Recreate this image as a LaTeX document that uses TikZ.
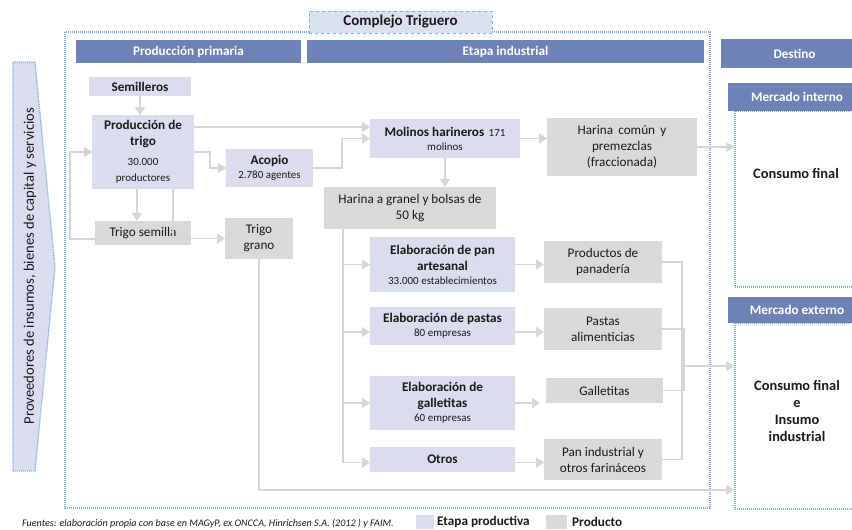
\documentclass[tikz,border=0pt]{standalone}
\usepackage{fontspec}
\setmainfont{Carlito}
\usetikzlibrary{arrows.meta}

\definecolor{hdrblue}{HTML}{6E82B5}
\definecolor{lav}{HTML}{D9DDEE}
\definecolor{gry}{HTML}{D9D9D9}
\definecolor{lngray}{HTML}{D6D6D6}
\definecolor{dotblue}{HTML}{7EB2E8}
\definecolor{titlefill}{HTML}{DCE1F0}
\definecolor{ink}{HTML}{1A1A1A}

\newcommand\fbig{\fontsize{13.2}{16}\selectfont}
\newcommand\fsmall{\fontsize{11}{14}\selectfont}
\newcommand\fdest{\fontsize{14.4}{17}\selectfont}

\tikzset{
  box/.style={rectangle, inner sep=0pt, outer sep=0pt, align=center, text=ink, font=\fbig},
  stage/.style={box, fill=lav},
  item/.style={box, fill=gry},
  hdr/.style={rectangle, inner sep=0pt, outer sep=0pt, fill=hdrblue, text=white, font=\fbig\bfseries},
  dotbox/.style={draw=dotblue, line width=1.3pt, dash pattern=on 1.1pt off 0.9pt},
  ln/.style={draw=lngray, line width=1.8pt},
  arr/.style={ln, -{Triangle[length=8pt,width=10pt,fill=lngray]}},
}

\begin{document}
\begin{tikzpicture}[x=1pt,y=-1pt]
\useasboundingbox (0,0) rectangle (852,530);

% frame of the wheat complex and its title
\draw[dotbox] (65,32) rectangle (710,508);
\node[rectangle, fill=titlefill, draw=dotblue, line width=1pt, dashed,
      minimum width=183pt, minimum height=22pt, inner sep=0pt,
      font=\fontsize{15}{18}\selectfont\bfseries, text=ink] (title) at (400.5,22) {Complejo Triguero};

% suppliers band on the left
\draw[dotbox, fill=lav] (13,62) -- (35,62) -- (55,267) -- (35,471) -- (13,471) -- cycle;
\node[rotate=90, font=\fontsize{14.6}{17}\selectfont, text=ink] (prov) at (30,266) {Proveedores de insumos, bienes de capital y servicios};

% column headers
\node[hdr, minimum width=225pt, minimum height=23pt] (h1) at (188.5,51.5) {Producción primaria};
\node[hdr, minimum width=397pt, minimum height=23pt] (h2) at (505.5,51.5) {Etapa industrial};
\node[hdr, minimum width=147pt, minimum height=29pt] (h3) at (794.5,53.5) {Destino};

% destination markets
\node[dotbox, rectangle, minimum width=131pt, minimum height=176pt, inner sep=0pt] (int) at (800.5,199) {};
\node[dotbox, rectangle, minimum width=131pt, minimum height=186pt, inner sep=0pt] (ext) at (800.5,416) {};
\node[hdr, minimum width=138pt, minimum height=28pt] (h4) at (797,97) {Mercado interno};
\node[hdr, minimum width=138pt, minimum height=26pt] (h5) at (797,310) {Mercado externo};
\node[box, font=\fdest\bfseries] (cfi) at (796,173) {Consumo final};
\node[box, font=\fdest\bfseries] (cfe) at (797,411) {Consumo final\\e\\Insumo\\industrial};

% primary production
\node[stage, minimum width=102pt, minimum height=19pt] (sem) at (140,86.5) {\bfseries Semilleros};
\node[stage, minimum width=102pt, minimum height=74pt] (prod) at (143,152)
  {\bfseries Producción de\\\bfseries trigo\\[4pt]\fsmall 30.000\\\fsmall productores};
\node[stage, minimum width=87pt, minimum height=38pt] (aco) at (269.5,168)
  {\bfseries Acopio\\[-2pt]\fsmall 2.780 agentes};
\node[item, minimum width=96pt, minimum height=24pt] (ts) at (143,233) {Trigo semilla};
\node[item, minimum width=68pt, minimum height=41pt] (tg) at (259,238.5) {Trigo\\grano};

% industrial stage
\node[stage, minimum width=150pt, minimum height=39pt] (mol) at (445,138.5)
  {{\bfseries Molinos harineros}\,\,{\fsmall 171}\\[-2pt]\fsmall molinos};
\node[item, minimum width=150pt, minimum height=58pt] (hc) at (622,147)
  {Harina\, común\, y\\premezclas\\(fraccionada)};
\node[item, minimum width=172pt, minimum height=42pt] (hg) at (410,208)
  {Harina a granel y bolsas de\\50 kg};
\node[stage, minimum width=145pt, minimum height=55pt] (pan) at (442.5,264.5)
  {\bfseries Elaboración de pan\\\bfseries artesanal\\[-2pt]\fsmall 33.000 establecimientos};
\node[stage, minimum width=145pt, minimum height=38pt] (pas) at (442.5,326)
  {\bfseries Elaboración de pastas\\[-2pt]\fsmall 80 empresas};
\node[stage, minimum width=145pt, minimum height=54pt] (gal) at (442.5,403)
  {\bfseries Elaboración de\\\bfseries galletitas\\[-2pt]\fsmall 60 empresas};
\node[stage, minimum width=145pt, minimum height=25pt] (otr) at (442.5,459.5) {\bfseries Otros};

% products
\node[item, minimum width=118pt, minimum height=42pt] (pd) at (603,262) {Productos de\\panadería};
\node[item, minimum width=118pt, minimum height=42pt] (pa) at (603,329) {Pastas\\alimenticias};
\node[item, minimum width=117pt, minimum height=25pt] (ga) at (604.5,390.5) {Galletitas};
\node[item, minimum width=118pt, minimum height=41pt] (pi) at (603,459.5) {Pan industrial y\\otros farináceos};

% routing points
\coordinate (p1) at ([yshift=25pt]prod.east);
\coordinate (fbx) at (70,0);
\coordinate (pgx) at (173,0);
\coordinate (y490) at (0,490);
\coordinate (trunk) at (343,0);
\coordinate (colA) at (682,0);
\coordinate (colB) at (684,0);
\coordinate (y366) at (0,366);

% flows of primary production
\draw[arr] (sem) -- (sem |- prod.north);
\draw[arr] ([xshift=-6pt]prod.south) -- ([xshift=-6pt]ts.north);
\draw[arr] (p1) -- (p1 -| mol.west);
\draw[arr] (prod.east) -- ++(16,0) |- (aco.west);
\draw[arr] (aco.east) -- ++(29,0) |- (mol.west);
\draw[arr] ([yshift=-6pt]ts.west) -| (fbx |- prod.west) -- (prod.west);
\draw[arr] (pgx |- prod.south) |- (tg.west);
\draw[arr] (tg.south) |- (ext.west |- y490);

% milling
\draw[arr] (mol.south) -- (mol.south |- hg.north);
\draw[arr] (mol.east) -- (mol.east -| hc.west);
\draw[arr] (hc.east) -- (hc.east -| int.west);

% flour to the processing stages
\draw[arr] (trunk |- hg.south) |- ([yshift=-3pt]otr.west);
\draw[arr] (trunk |- pan.west) -- (pan.west);
\draw[arr] (trunk |- pas.west) ++(0,6) -- ([yshift=-6pt]pas.west);
\draw[arr] (trunk |- gal.west) -- (gal.west);

% processing stages to products
\draw[arr] (pan.east) -- (pan.east -| pd.west);
\draw[arr] ([yshift=-6pt]pas.east) -- ([yshift=-6pt]pas.east -| pa.west);
\coordinate (gtip) at ([xshift=-6pt]gal.east -| ga.west);
\draw[arr] (gal.east) -- (gtip);
\draw[arr] ([yshift=-3pt]otr.west -| otr.east) -- ([yshift=-3pt]otr.west -| pi.west);

% products collected towards the external market
\draw[ln] (pd.east) -| (colA |- pi.east) -- (pi.east);
\draw[ln] (pa.east) -| (colB |- ga.east) -- (ga.east);
\draw[arr] (colB |- y366) -- (ext.west |- y366);

% legend and source note
\fill[lav] (416,515) rectangle (434,529);
\node[anchor=west, font=\fbig\bfseries, text=ink, inner sep=0pt] (lg1) at (437,522) {Etapa productiva};
\fill[gry] (546,515) rectangle (567,529);
\node[anchor=west, font=\fbig\bfseries, text=ink, inner sep=0pt] (lg2) at (572,522) {Producto};
\node[anchor=west, font=\fontsize{10.1}{12}\selectfont\itshape, text=ink, inner sep=0pt] (src) at (22,524)
  {Fuentes: elaboración propia con base en MAGyP, ex ONCCA, Hinrichsen S.A. (2012 ) y FAIM.};
\end{tikzpicture}
\end{document}
